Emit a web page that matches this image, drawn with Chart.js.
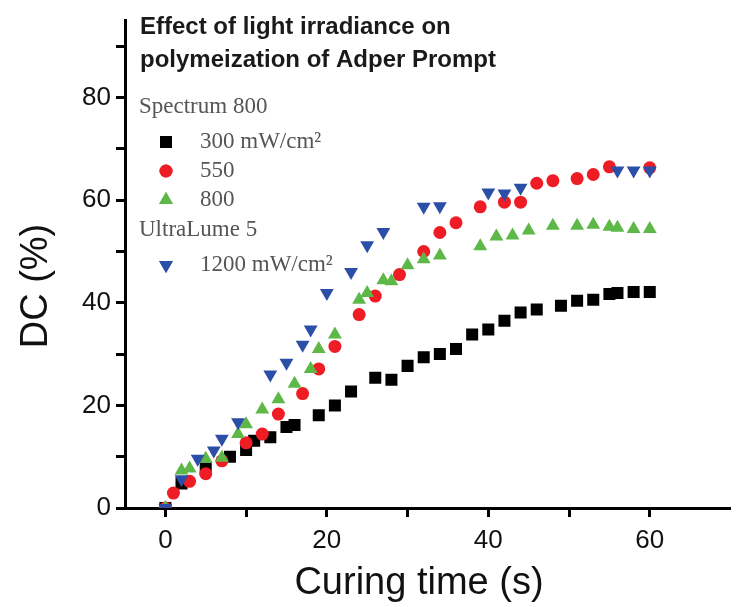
<!DOCTYPE html>
<html>
<head>
  <meta charset="UTF-8">
  <title>Effect of light irradiance on polymeization of Adper Prompt</title>
  <script src="https://cdn.jsdelivr.net/npm/chart.js@4.4.1/dist/chart.umd.min.js"></script>
  <style>
    body { margin: 0; background: #fff; }
    #wrap { width: 739px; height: 607px; position: relative; }
  </style>
</head>
<body>
<div id="wrap"><canvas id="myChart"></canvas></div>
<script>
  // curing time (s) and degree of conversion (%)
  var time300 = [0, 2, 5, 8, 10, 11, 13, 15, 16, 19, 21, 23, 26, 28, 30, 32, 34, 36, 38, 40, 42, 44, 46, 49, 51, 53, 55, 56, 58, 60];
  var dc300   = [0, 4.8, 7.7, 10.0, 11.3, 13.1, 13.8, 15.8, 16.2, 18.1, 20.0, 22.7, 25.4, 25.0, 27.7, 29.4, 30.0, 31.0, 33.8, 34.8, 36.5, 38.1, 38.7, 39.4, 40.4, 40.6, 41.7, 41.9, 42.1, 42.1];

  var time550 = [0, 1, 3, 5, 7, 10, 12, 14, 17, 19, 21, 24, 26, 29, 32, 34, 36, 39, 42, 44, 46, 48, 51, 53, 55, 60];
  var dc550   = [0, 2.9, 5.2, 6.7, 9.2, 12.7, 14.4, 18.3, 22.3, 27.1, 31.5, 37.7, 41.3, 45.5, 50.0, 53.7, 55.6, 58.7, 59.6, 59.6, 63.3, 63.8, 64.2, 65.0, 66.5, 66.3];

  var time800 = [0, 2, 3, 5, 7, 9, 10, 12, 14, 16, 18, 19, 21, 24, 25, 27, 28, 30, 32, 34, 39, 41, 43, 45, 48, 51, 53, 55, 56, 58, 60];
  var dc800   = [0, 7.3, 7.7, 9.6, 9.8, 14.4, 16.3, 19.2, 21.2, 24.2, 27.1, 31.0, 33.8, 40.6, 41.9, 44.4, 44.2, 47.3, 48.5, 49.2, 51.0, 52.9, 53.1, 54.1, 55.0, 55.0, 55.2, 54.8, 54.6, 54.4, 54.4];

  var time1200 = [0, 2, 4, 6, 7, 9, 13, 15, 17, 18, 20, 23, 25, 27, 32, 34, 40, 42, 44, 56, 58, 60];
  var dc1200   = [0, 5.6, 9.6, 11.2, 13.5, 16.7, 26.0, 28.3, 31.8, 34.8, 41.9, 46.0, 51.2, 53.8, 58.7, 58.8, 61.5, 61.3, 62.4, 65.8, 65.8, 65.8];

  var xTicks = [0, 10, 20, 30, 40, 50, 60, 70];
  var yTicks = [0, 10, 20, 30, 40, 50, 60, 70, 80, 90];
  var xLabels = [0, 20, 40, 60];
  var yLabels = [0, 20, 40, 60, 80];

  var titleLines = ["Effect of light irradiance on", "polymeization of Adper Prompt"];
  var legendHeads = ["Spectrum 800", "UltraLume 5"];
  var seriesNames = ["300 mW/cm\u00b2", "550", "800", "1200 mW/cm\u00b2"];
  var xTitle = "Curing time (s)";
  var yTitle = "DC (%)";

  function pts(xs, ys) {
    var out = [];
    for (var i = 0; i < xs.length; i++) out.push({ x: xs[i], y: ys[i] });
    return out;
  }

  var blk = "#000000", red = "#ee1d25", grn = "#5db847", blu = "#2b4fa6";
  var sans = "'Liberation Sans', Arial, sans-serif";

  // title, axis titles and the grouped legend are drawn straight on the canvas
  var notesPlugin = {
    id: "notes",
    afterDraw: function(chart) {
      var ctx = chart.ctx;
      ctx.save();
      ctx.fillStyle = "#1a1a1a";
      ctx.font = "bold 24px " + sans;
      ctx.textBaseline = "middle";
      ctx.textAlign = "left";
      ctx.fillText(titleLines[0], 140, 27);
      ctx.fillText(titleLines[1], 140, 60);

      // axis titles
      ctx.fillStyle = "#111";
      ctx.font = "38px " + sans;
      ctx.textAlign = "center";
      ctx.textBaseline = "alphabetic";
      ctx.fillText(xTitle, 419, 594);
      ctx.save();
      ctx.translate(47, 286);
      ctx.rotate(-Math.PI / 2);
      ctx.fillText(yTitle, 0, 0);
      ctx.restore();

      ctx.textAlign = "left";
      ctx.textBaseline = "middle";
      ctx.fillStyle = "#555555";
      ctx.font = "23px 'Liberation Serif', 'Times New Roman', serif";
      ctx.fillText(legendHeads[0], 139, 107);
      ctx.fillText(legendHeads[1], 139, 230);

      var rows = [142, 171, 200, 265];
      var ds = chart.data.datasets;
      for (var i = 0; i < 4; i++) {
        var d = ds[3 - i];
        ctx.fillStyle = d.backgroundColor;
        Chart.helpers.drawPoint(ctx, {
          pointStyle: d.pointStyle,
          radius: d.pointRadius,
          rotation: d.rotation || 0,
          borderWidth: 0
        }, 166, rows[i]);
        ctx.fill();
        ctx.fillStyle = "#555555";
        ctx.fillText(seriesNames[i], 200, rows[i]);
      }
      ctx.restore();
    }
  };

  var ctx = document.getElementById("myChart");
  new Chart(ctx, {
    type: "scatter",
    data: {
      datasets: [
        { label: seriesNames[3], data: pts(time1200, dc1200), pointStyle: "triangle", rotation: 180,
          pointRadius: 8, backgroundColor: blu, borderColor: blu, borderWidth: 0, order: 1 },
        { label: seriesNames[2], data: pts(time800, dc800), pointStyle: "triangle",
          pointRadius: 8, backgroundColor: grn, borderColor: grn, borderWidth: 0, order: 2 },
        { label: seriesNames[1], data: pts(time550, dc550), pointStyle: "circle",
          pointRadius: 6.5, backgroundColor: red, borderColor: red, borderWidth: 0, order: 3 },
        { label: seriesNames[0], data: pts(time300, dc300), pointStyle: "rect",
          pointRadius: 8.5, backgroundColor: blk, borderColor: blk, borderWidth: 0, order: 4 }
      ]
    },
    options: {
      responsive: true,
      maintainAspectRatio: false,
      animation: false,
      layout: { padding: { top: 12, right: 2, left: 0, bottom: 0 } },
      plugins: {
        legend: { display: false },
        tooltip: { enabled: false }
      },
      scales: {
        x: {
          type: "linear",
          min: -5, max: 70,
          afterFit: function(s) { s.height = 99; },
          afterBuildTicks: function(s) { s.ticks = xTicks.map(function(v) { return { value: v }; }); },
          border: { display: true, color: "#000", width: 3 },
          grid: {
            drawOnChartArea: false, drawTicks: true, tickLength: 9,
            tickWidth: 3,
            tickColor: function(c) { return (c.tick && c.tick.value < 70) ? "#000" : "rgba(0,0,0,0)"; }
          },
          ticks: {
            padding: 8, color: "#111",
            font: { family: sans, size: 26 },
            maxRotation: 0, autoSkip: false,
            callback: function(v) { return xLabels.indexOf(v) >= 0 ? String(v) : ""; }
          }
        },
        y: {
          min: 0, max: 95,
          afterFit: function(s) { s.width = 125; },
          afterBuildTicks: function(s) { s.ticks = yTicks.map(function(v) { return { value: v }; }); },
          border: { display: true, color: "#000", width: 3 },
          grid: {
            drawOnChartArea: false, drawTicks: true, tickLength: 9,
            tickWidth: 3, tickColor: "#000"
          },
          ticks: {
            padding: 5, color: "#111",
            font: { family: sans, size: 26 },
            autoSkip: false,
            callback: function(v) { return yLabels.indexOf(v) >= 0 ? String(v) : ""; }
          }
        }
      }
    },
    plugins: [notesPlugin]
  });
</script>
</body>
</html>
